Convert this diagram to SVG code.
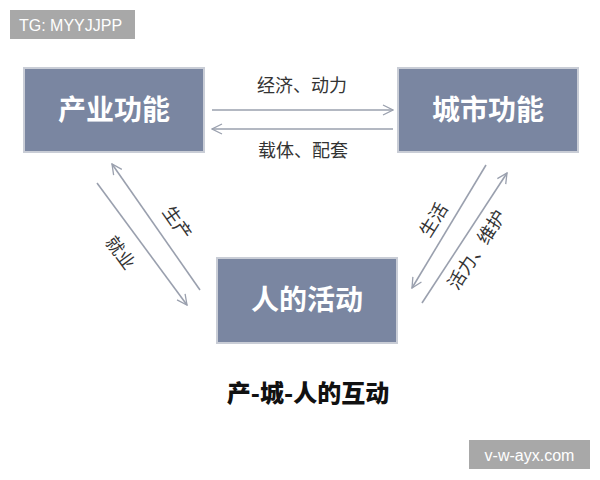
<svg xmlns="http://www.w3.org/2000/svg" width="600" height="480" viewBox="0 0 600 480">
<defs>
<marker id="ah" viewBox="0 0 12 12" refX="11" refY="6" markerWidth="12" markerHeight="12" markerUnits="userSpaceOnUse" orient="auto">
<path d="M1,1 L11,6 L1,11" fill="none" stroke="#9aa0ae" stroke-width="1.3"/>
</marker>
<style>
.box{fill:#7a86a1;stroke:#c9cdd6;stroke-width:2}
.bt{font-family:"Noto Sans CJK SC","Noto Sans",sans-serif;font-weight:bold;font-size:28px;fill:#ffffff;text-anchor:middle}
.ln{stroke:#9aa0ae;stroke-width:1.6;fill:none;marker-end:url(#ah)}
.lb{font-family:"Noto Sans CJK SC","Noto Sans",sans-serif;font-size:18px;fill:#333333;text-anchor:middle}
.badge{fill:#a8a8a8}
.bdt{font-family:"Liberation Sans",Arial,sans-serif;font-size:16px;fill:#ffffff}
</style>
</defs>
<rect width="600" height="480" fill="#ffffff"/>
<g id="badge-top">
<rect class="badge" x="10" y="10" width="125" height="29"/>
<text class="bdt" x="19" y="31">TG: MYYJJPP</text>
</g>
<g id="node-industry">
<rect class="box" x="24" y="68" width="180" height="84"/>
<text class="bt" x="114" y="120">产业功能</text>
</g>
<g id="node-city">
<rect class="box" x="398" y="68" width="180" height="84"/>
<text class="bt" x="488" y="120">城市功能</text>
</g>
<g id="node-people">
<rect class="box" x="217" y="258" width="180" height="85"/>
<text class="bt" x="307" y="310">人的活动</text>
</g>
<g id="connectors">
<line class="ln" x1="212" y1="110" x2="393" y2="110"/>
<line class="ln" x1="393" y1="129" x2="212" y2="129"/>
<line class="ln" x1="200" y1="290" x2="112" y2="164"/>
<line class="ln" x1="97" y1="183" x2="187" y2="305"/>
<line class="ln" x1="486" y1="165" x2="412" y2="288"/>
<line class="ln" x1="422" y1="303" x2="507" y2="173"/>
<text class="lb" x="302" y="92">经济、动力</text>
<text class="lb" x="303" y="157">载体、配套</text>
<text class="lb" transform="translate(177,223) rotate(55)" y="6">生产</text>
<text class="lb" transform="translate(120,253) rotate(54)" y="6">就业</text>
<text class="lb" transform="translate(434,220) rotate(-58)" y="6">生活</text>
<text class="lb" transform="translate(477,250) rotate(-57)" y="6">活力、维护</text>
</g>
<text x="308" y="402" font-family="'Noto Sans CJK SC','Noto Sans',sans-serif" font-weight="900" font-size="24" fill="#111111" text-anchor="middle">产-城-人的互动</text>
<g id="badge-bottom">
<rect class="badge" x="469" y="440" width="121" height="29"/>
<text class="bdt" x="529.5" y="461" text-anchor="middle" font-size="17">v-w-ayx.com</text>
</g>
</svg>
